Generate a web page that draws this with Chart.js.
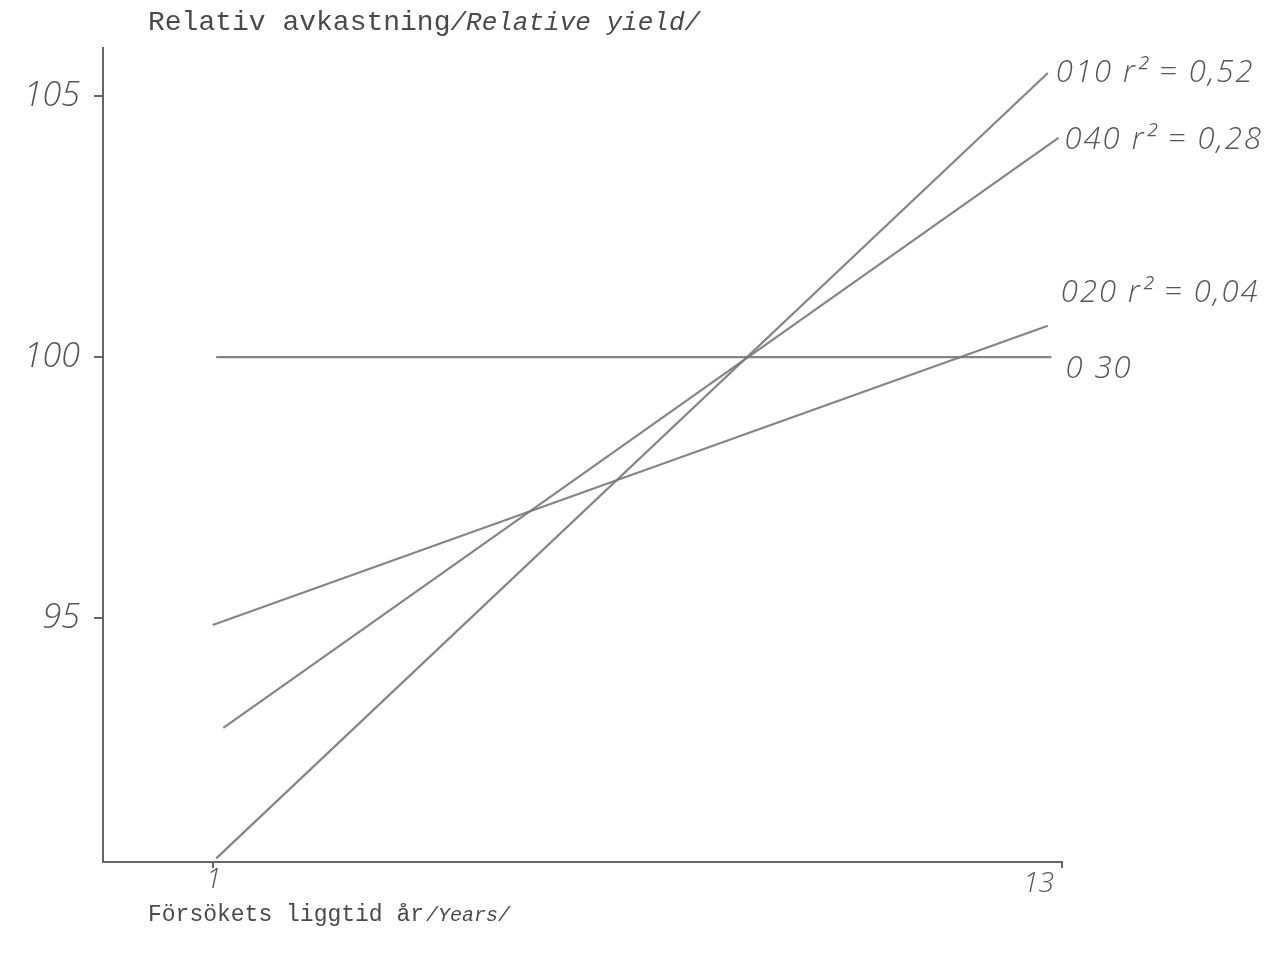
<!DOCTYPE html>
<html>
<head>
<meta charset="utf-8">
<script src="https://cdn.jsdelivr.net/npm/chart.js@4.4.1/dist/chart.umd.min.js"></script>
<style>
  html, body { margin: 0; padding: 0; background: #ffffff; }
  #wrap { width: 1280px; height: 961px; position: relative; }
</style>
</head>
<body>
<div id="wrap"><canvas id="c" width="1280" height="961"></canvas></div>
<script>
// ---- data ----
const seriesNames = ['010', '040', '020', '0 30'];
const r2Texts     = [' r² = 0,52', ' r² = 0,28', ' r² = 0,04', ''];
const xStart      = [1.05, 1.15, 1.0, 1.05];
const xEnd        = [12.8, 12.95, 12.8, 12.85];
const yStart      = [90.4, 92.9, 94.87, 100.0];
const yEnd        = [105.44, 104.2, 100.6, 100.0];
const yTickValues = [95, 100, 105];
const xTickValues = [1, 13];
const yTitle  = ['Relativ avkastning', '/Relative yield/'];
const xTitle  = ['Försökets liggtid år', '/Years/'];

const lineColor = 'rgba(120,120,120,0.9)';
const handFont = '"Open Sans", "DejaVu Sans", sans-serif';
// label offsets (style only): dx, dy from line end
const labelOffsets = [[8, 9], [6, 11], [13, -24], [14, 21]];

const datasets = seriesNames.map((n, i) => ({
  label: n,
  data: [{x: xStart[i], y: yStart[i]}, {x: xEnd[i], y: yEnd[i]}],
  showLine: true,
  borderColor: lineColor,
  borderWidth: 2.2,
  pointRadius: 0,
  fill: false
}));

const textPlugin = {
  id: 'texts',
  afterDraw(chart) {
    const ctx = chart.ctx;
    const xs = chart.scales.x, ys = chart.scales.y;
    ctx.save();
    ctx.fillStyle = '#4a4a4a';
    ctx.textBaseline = 'alphabetic';
    // y title (typewriter)
    ctx.font = '28px "Liberation Mono", monospace';
    ctx.fillText(yTitle[0], 148, 30);
    let w = ctx.measureText(yTitle[0]).width;
    ctx.font = 'italic 26px "Liberation Mono", monospace';
    ctx.fillText(yTitle[1], 148 + w, 30);
    // x title
    ctx.font = '23px "Liberation Mono", monospace';
    ctx.fillText(xTitle[0], 148, 921);
    w = ctx.measureText(xTitle[0]).width;
    ctx.font = 'italic 20px "Liberation Mono", monospace';
    ctx.fillText(xTitle[1], 148 + w + 2, 921);
    // x tick labels
    ctx.fillStyle = '#555';
    ctx.font = 'italic 300 28px ' + handFont;
    const axisY = ys.getPixelForValue(ys.min);
    ctx.textAlign = 'center';
    ctx.fillText(String(xTickValues[0]), xs.getPixelForValue(xTickValues[0]) + 1, axisY + 26);
    ctx.textAlign = 'right';
    ctx.fillText(String(xTickValues[1]), xs.getPixelForValue(xTickValues[1]) - 8, axisY + 30);
    ctx.textAlign = 'left';
    // end labels
    ctx.letterSpacing = '2px';
    seriesNames.forEach((n, i) => {
      const px = xs.getPixelForValue(xEnd[i]) + labelOffsets[i][0];
      const py = ys.getPixelForValue(yEnd[i]) + labelOffsets[i][1];
      ctx.font = 'italic 300 31px ' + handFont;
      ctx.fillText(n + r2Texts[i], px, py);
    });
    ctx.restore();
  }
};

new Chart(document.getElementById('c'), {
  type: 'scatter',
  data: { datasets },
  options: {
    responsive: false,
    animation: false,
    layout: { padding: { left: 0, right: 218, top: 48, bottom: 0 } },
    plugins: { legend: { display: false }, tooltip: { enabled: false } },
    scales: {
      x: {
        type: 'linear', min: -0.55, max: 13,
        afterBuildTicks(s) { s.ticks = xTickValues.map(v => ({value: v})); },
        afterFit(s) { s.height = 961 - 862; },
        grid: { display: true, drawOnChartArea: false, drawTicks: true, tickLength: 6, color: '#666', lineWidth: 2 },
        border: { display: true, color: '#666', width: 2 },
        ticks: { display: false }
      },
      y: {
        type: 'linear', min: 90.33, max: 105.92,
        afterBuildTicks(s) { s.ticks = yTickValues.map(v => ({value: v})); },
        afterFit(s) { s.width = 103; },
        grid: { display: true, drawOnChartArea: false, drawTicks: true, tickLength: 9, color: '#666', lineWidth: 2 },
        border: { display: true, color: '#666', width: 2 },
        ticks: { color: '#555', font: { family: handFont, size: 34, style: 'italic', weight: '300' }, padding: 14,
                 callback: v => String(v) }
      }
    }
  },
  plugins: [textPlugin]
});
</script>
</body>
</html>
